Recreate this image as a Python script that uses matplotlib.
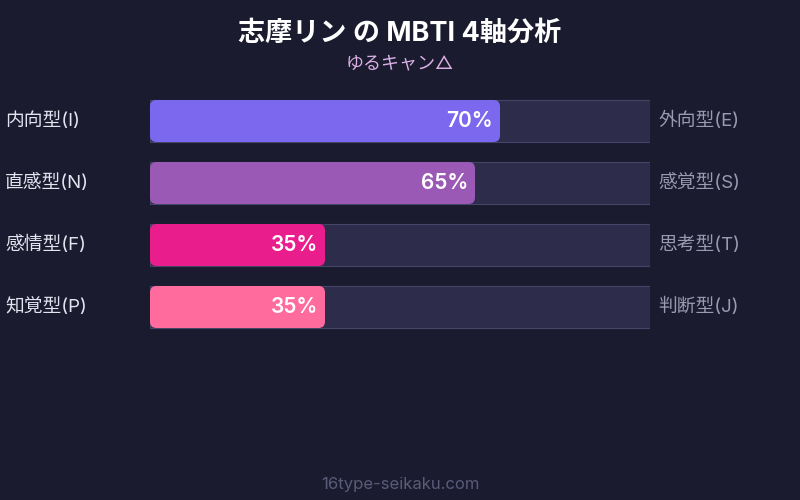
import matplotlib.pyplot as plt
from matplotlib.patches import FancyBboxPatch, Rectangle

plt.rcParams['font.family'] = ['Inter', 'Noto Sans CJK JP', 'DejaVu Sans']

# data
left_labels = ['内向型(I)', '直感型(N)', '感情型(F)', '知覚型(P)']
right_labels = ['外向型(E)', '感覚型(S)', '思考型(T)', '判断型(J)']
values = [70, 65, 35, 35]
colors = ['#7b68ee', '#9b59b6', '#e91e8c', '#ff6b9d']
title = '志摩リン の MBTI 4軸分析'
subtitle = 'ゆるキャン△'
footer = '16type-seikaku.com'

bg = '#1a1b2e'
fig = plt.figure(figsize=(8, 5), dpi=100, facecolor=bg)

# axes covers the track area: x 150..650 px, rows 62 px apart
ax = fig.add_axes([150 / 800, 162 / 500, 500 / 800, 248 / 500])
ax.set_xlim(0, 100)
ax.set_ylim(3.5, -0.5)
ax.axis('off')

bar_h = 42 / 62
px_x = 100 / 500       # data units per pixel in x
px_y = 1 / 62          # data units per pixel in y
aspect = px_y / px_x

for i, (v, c) in enumerate(zip(values, colors)):
    ax.add_patch(Rectangle((0, i - bar_h / 2), 100, bar_h,
                           facecolor='#2d2c4a', edgecolor='#45456a', lw=0.8))
    ax.add_patch(FancyBboxPatch((0, i - bar_h / 2), v, bar_h,
                                boxstyle='round,pad=0,rounding_size=1.3',
                                mutation_aspect=aspect,
                                facecolor=c, edgecolor='none'))
    ax.text(v - 1.4, i, f'{v}%', ha='right', va='center', color='white',
            fontsize=15, fontweight='semibold')
    ax.text(-29, i, left_labels[i], ha='left', va='center', color='#e4e4f0',
            fontsize=13.5, clip_on=False)
    ax.text(101.6, i, right_labels[i], ha='left', va='center', color='#9a9ab0',
            fontsize=13.5, clip_on=False)

fig.text(0.5, 1 - 34 / 500, title, ha='center', va='center', color='white',
         fontsize=19.5, fontweight='bold')
fig.text(0.5, 1 - 64 / 500, subtitle, ha='center', va='center', color='#dcb0e6',
         fontsize=13)
fig.text(0.5, 1 - 485 / 500, footer, ha='center', va='center', color='#5a5a7a',
         fontsize=12)

fig.savefig('out.png', dpi=100, facecolor=bg)
